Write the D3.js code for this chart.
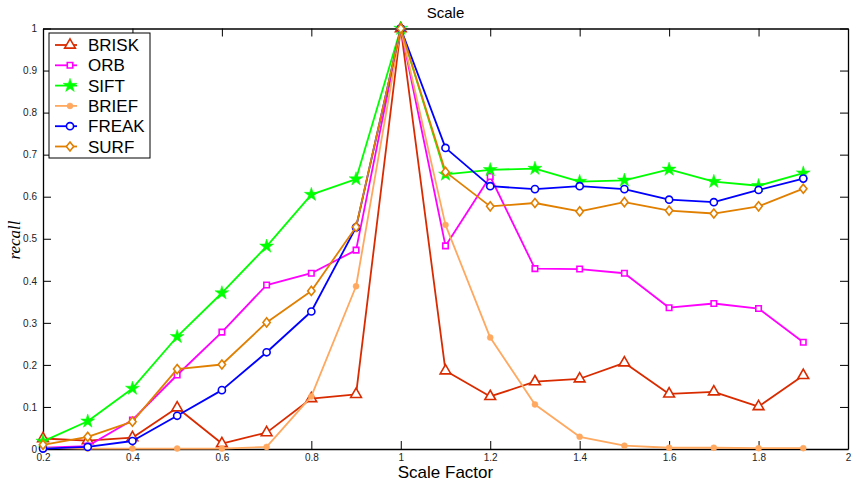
<!DOCTYPE html>
<html>
<head>
<meta charset="utf-8">
<script src="https://cdn.jsdelivr.net/npm/d3@7"></script>
<style>
  body { margin: 0; background: #fff; }
  svg { display: block; font-family: "Liberation Sans", Arial, sans-serif; }
  .axis path, .axis line { stroke: #000; }
</style>
</head>
<body>
<div id="chart"></div>
<script>
// scale factors on the x axis
const scaleFactors = [0.2, 0.3, 0.4, 0.5, 0.6, 0.7, 0.8, 0.9, 1.0, 1.1, 1.2, 1.3, 1.4, 1.5, 1.6, 1.7, 1.8, 1.9];

// recall per descriptor
const brisk = [0.025, 0.02, 0.027, 0.098, 0.013, 0.039, 0.12, 0.13, 1.0, 0.186, 0.125, 0.16, 0.167, 0.205, 0.131, 0.136, 0.101, 0.175];
const orb   = [0.003, 0.007, 0.069, 0.176, 0.278, 0.39, 0.418, 0.473, 1.0, 0.483, 0.648, 0.429, 0.428, 0.418, 0.336, 0.346, 0.334, 0.254];
const sift  = [0.018, 0.066, 0.144, 0.267, 0.371, 0.482, 0.605, 0.642, 1.0, 0.653, 0.664, 0.667, 0.636, 0.639, 0.665, 0.636, 0.626, 0.656];
const brief = [0.003, 0.001, 0.001, 0.001, 0.001, 0.005, 0.125, 0.387, 1.0, 0.533, 0.265, 0.106, 0.029, 0.008, 0.003, 0.003, 0.002, 0.002];
const freak = [0.001, 0.005, 0.019, 0.079, 0.14, 0.23, 0.327, 0.527, 1.0, 0.716, 0.625, 0.618, 0.625, 0.618, 0.593, 0.587, 0.616, 0.643];
const surf  = [0.01, 0.029, 0.065, 0.19, 0.201, 0.301, 0.376, 0.528, 1.0, 0.659, 0.577, 0.585, 0.565, 0.587, 0.567, 0.56, 0.577, 0.619];

const seriesNames = ["BRISK", "ORB", "SIFT", "BRIEF", "FREAK", "SURF"];
const seriesValues = [brisk, orb, sift, brief, freak, surf];

const xTicks = [0.2, 0.4, 0.6, 0.8, 1, 1.2, 1.4, 1.6, 1.8, 2];
const yTicks = [0, 0.1, 0.2, 0.3, 0.4, 0.5, 0.6, 0.7, 0.8, 0.9, 1];

// matlab style diamond: a bit wider than d3's own
const symbolMatDiamond = {
  draw(context, size) {
    const h = Math.sqrt(size) * 0.68;
    const w = h * 0.8;
    context.moveTo(0, -h);
    context.lineTo(w, 0);
    context.lineTo(0, h);
    context.lineTo(-w, 0);
    context.closePath();
  }
};

// look of each series: colour and marker
const styles = {
  BRISK: { color: "#d92b00", symbol: d3.symbolTriangle, size: 50, fill: false },
  ORB:   { color: "#ff00ff", symbol: d3.symbolSquare, size: 30, fill: false },
  SIFT:  { color: "#00ff00", symbol: d3.symbolStar, size: 60, fill: true },
  BRIEF: { color: "#ffa860", symbol: d3.symbolCircle, size: 28, fill: true },
  FREAK: { color: "#0000ff", symbol: d3.symbolCircle, size: 40, fill: false },
  SURF:  { color: "#e07f00", symbol: symbolMatDiamond, size: 45, fill: false }
};

const width = 853;
const height = 490;
const margin = { top: 28.5, right: 5, bottom: 41, left: 43 };

const svg = d3.select("#chart")
  .append("svg")
  .attr("width", width)
  .attr("height", height);

const xScale = d3.scaleLinear()
  .domain([0.2, 2])
  .range([margin.left, width - margin.right]);

const yScale = d3.scaleLinear()
  .domain([0, 1])
  .range([height - margin.bottom, margin.top]);

// axes with ticks pointing inwards, like a matlab box
svg.append("g")
  .attr("class", "axis")
  .attr("transform", `translate(0, ${height - margin.bottom})`)
  .call(d3.axisBottom(xScale).tickValues(xTicks).tickSizeInner(-8).tickSizeOuter(0).tickPadding(5).tickFormat(d3.format("~g")))
  .call((g) => g.selectAll("text").attr("font-size", 10).attr("fill", "#222").attr("font-family", "Liberation Sans, Arial"));

svg.append("g")
  .attr("class", "axis")
  .attr("transform", `translate(0, ${margin.top})`)
  .call(d3.axisTop(xScale).tickValues(xTicks).tickSizeInner(-8).tickSizeOuter(0).tickFormat(""));

svg.append("g")
  .attr("class", "axis")
  .attr("transform", `translate(${margin.left}, 0)`)
  .call(d3.axisLeft(yScale).tickValues(yTicks).tickSizeInner(-8).tickSizeOuter(0).tickPadding(6).tickFormat(d3.format("~g")))
  .call((g) => g.selectAll("text").attr("font-size", 10).attr("fill", "#222").attr("font-family", "Liberation Sans, Arial"));

svg.append("g")
  .attr("class", "axis")
  .attr("transform", `translate(${width - margin.right}, 0)`)
  .call(d3.axisRight(yScale).tickValues(yTicks).tickSizeInner(-8).tickSizeOuter(0).tickFormat(""));

svg.selectAll(".axis path").attr("stroke-width", 1.3);

// title and axis labels
svg.append("text")
  .attr("x", (margin.left + width - margin.right) / 2)
  .attr("y", 18)
  .attr("text-anchor", "middle")
  .attr("font-size", 15)
  .text("Scale");

svg.append("text")
  .attr("x", (margin.left + width - margin.right) / 2)
  .attr("y", 478)
  .attr("text-anchor", "middle")
  .attr("font-size", 17)
  .text("Scale Factor");

svg.append("text")
  .attr("transform", "translate(20, 240) rotate(-90)")
  .attr("text-anchor", "middle")
  .attr("font-size", 17)
  .attr("font-style", "italic")
  .attr("font-family", "Liberation Serif, serif")
  .text("recall");

const line = d3.line()
  .x((d) => xScale(d.x))
  .y((d) => yScale(d.y));

const plot = svg.append("g");

seriesNames.forEach((name, i) => {
  const st = styles[name];
  const points = scaleFactors.map((x, j) => ({ x: x, y: seriesValues[i][j] }));

  plot.append("path")
    .datum(points)
    .attr("fill", "none")
    .attr("stroke", st.color)
    .attr("stroke-width", 1.8)
    .attr("stroke-linejoin", "round")
    .attr("d", line);

  plot.selectAll(null)
    .data(points)
    .enter()
    .append("path")
    .attr("transform", (d) => `translate(${xScale(d.x)}, ${yScale(d.y)})`)
    .attr("d", d3.symbol().type(st.symbol).size(st.size))
    .attr("fill", st.fill ? st.color : "#fff")
    .attr("stroke", st.color)
    .attr("stroke-width", st.fill ? 0.5 : 1.6);
});

// legend
const legend = svg.append("g").attr("transform", "translate(49, 33)");

legend.append("rect")
  .attr("width", 101)
  .attr("height", 125)
  .attr("fill", "#fff")
  .attr("stroke", "#000")
  .attr("stroke-width", 1);

seriesNames.forEach((name, i) => {
  const st = styles[name];
  const y = 12 + i * 20.3;
  legend.append("line")
    .attr("x1", 6).attr("x2", 28)
    .attr("y1", y).attr("y2", y)
    .attr("stroke", st.color)
    .attr("stroke-width", 1.8);
  legend.append("path")
    .attr("transform", `translate(21, ${y})`)
    .attr("d", d3.symbol().type(st.symbol).size(st.size))
    .attr("fill", st.fill ? st.color : "#fff")
    .attr("stroke", st.color)
    .attr("stroke-width", st.fill ? 0.5 : 1.6);
  legend.append("text")
    .attr("x", 39)
    .attr("y", y)
    .attr("dy", "0.36em")
    .attr("font-size", 17)
    .text(name);
});
</script>
</body>
</html>
